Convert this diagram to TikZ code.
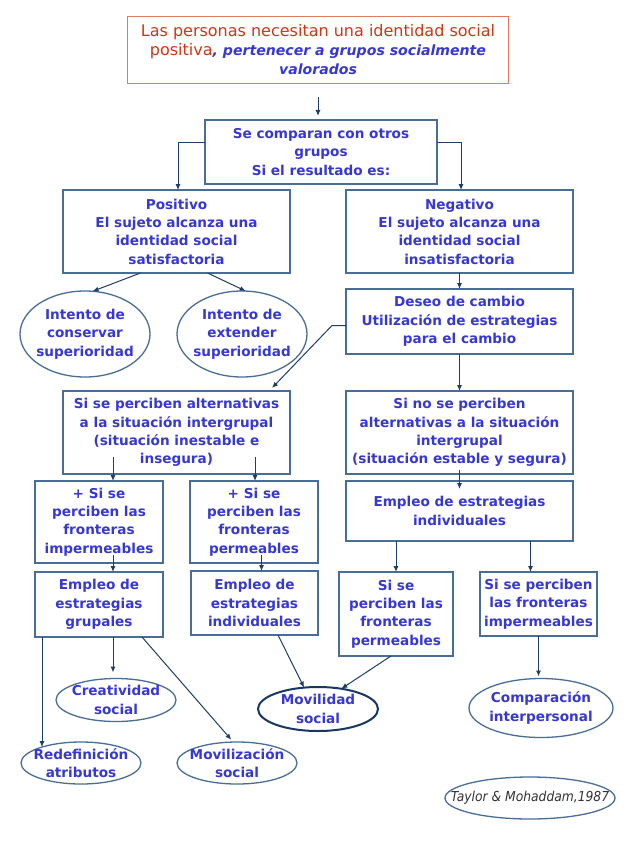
\documentclass[tikz,border=0pt]{standalone}
\usepackage{fontspec}
\setmainfont{DejaVu Sans}
\newfontfamily\tayf{DejaVu Sans Condensed}
\usetikzlibrary{shapes.geometric,arrows.meta,calc}
\definecolor{txtblue}{RGB}{55,55,210}
\definecolor{boxcol}{RGB}{72,110,152}
\definecolor{arrcol}{RGB}{30,62,105}
\definecolor{topred}{RGB}{205,55,20}
\definecolor{topborder}{RGB}{228,120,95}
\definecolor{navy}{RGB}{25,55,100}
\begin{document}
\begin{tikzpicture}[x=1pt,y=-1pt,
  every node/.style={inner sep=0pt, outer sep=0pt},
  box/.style={draw=boxcol, line width=1.3pt, fill=white, align=center, text=txtblue,
    font=\bfseries\fontsize{13.6}{18.3}\selectfont},
  ell/.style={ellipse, draw=boxcol, line width=1.3pt, fill=white},
  lbl/.style={align=center, text=txtblue, font=\bfseries\fontsize{13.6}{18.3}\selectfont},
  arr/.style={draw=arrcol, line width=1pt, -{Latex[length=6pt,width=5pt]}}
]
\useasboundingbox (0,0) rectangle (636,848);
\fill[white] (0,0) rectangle (636,848);

% boxes
\node[box, draw=topborder, line width=1.5pt, minimum width=381, minimum height=67,
  font=\mdseries\fontsize{16}{19}\selectfont] (top) at (318,50)
  {\textcolor{topred}{Las personas necesitan una identidad social}\\
   \textcolor{topred}{positiva}{\bfseries\itshape\fontsize{14.1}{19}\selectfont, pertenecer a grupos socialmente}\\
   {\bfseries\itshape\fontsize{14.1}{19}\selectfont valorados}};
\node[box, minimum width=232, minimum height=64] (cmp) at (321,152)
  {Se comparan con otros\\grupos\\Si el resultado es:};
\node[box, minimum width=227, minimum height=83] (pos) at (176.5,231.5)
  {Positivo\\El sujeto alcanza una\\identidad social\\satisfactoria};
\node[box, minimum width=227, minimum height=83] (neg) at (459.5,231.5)
  {Negativo\\El sujeto alcanza una\\identidad social\\insatisfactoria};
\node[ell, minimum width=130, minimum height=86,
  label={[lbl]center:Intento de\\conservar\\superioridad}] (e1) at (85,334) {};
\node[ell, minimum width=130, minimum height=86,
  label={[lbl]center:Intento de\\extender\\superioridad}] (e2) at (242,334) {};
\node[box, minimum width=227, minimum height=65] (des) at (459.5,321.5)
  {Deseo de cambio\\Utilización de estrategias\\para el cambio};
\node[box, minimum width=227, minimum height=83] (alt) at (176.5,432.5)
  {Si se perciben alternativas\\a la situación intergrupal\\(situación inestable e\\insegura)};
\node[box, minimum width=227, minimum height=83] (noalt) at (459.5,432.5)
  {Si no se perciben\\alternativas a la situación\\intergrupal\\(situación estable y segura)};
\node[box, minimum width=128, minimum height=82] (imp1) at (99,522)
  {+ Si se\\perciben las\\fronteras\\impermeables};
\node[box, minimum width=128, minimum height=82] (perm1) at (254,522)
  {+ Si se\\perciben las\\fronteras\\permeables};
\node[box, minimum width=227, minimum height=60] (empind) at (459.5,511)
  {Empleo de estrategias\\individuales};
\node[box, minimum width=128, minimum height=65] (grup) at (99,604.5)
  {Empleo de\\estrategias\\grupales};
\node[box, minimum width=127, minimum height=64] (ind2) at (254.5,603)
  {Empleo de\\estrategias\\individuales};
\node[box, minimum width=114, minimum height=84] (perm2) at (396,614)
  {Si se\\perciben las\\fronteras\\permeables};
\node[box, minimum width=117, minimum height=64] (imp2) at (538.5,604)
  {Si se perciben\\las fronteras\\impermeables};

% ellipses
\node[ell, minimum width=120, minimum height=43,
  label={[lbl]center:Creatividad\\social}] (crea) at (116,700) {};
\node[ell, draw=navy, line width=2pt, minimum width=120, minimum height=44,
  label={[lbl]center:Movilidad\\social}] (movil) at (318,709) {};
\node[ell, minimum width=144, minimum height=59,
  label={[lbl]center:Comparación\\interpersonal}] (comp) at (541,708) {};
\node[ell, minimum width=120, minimum height=42,
  label={[lbl]center:Redefinición\\atributos}] (redef) at (81,763) {};
\node[ell, minimum width=120, minimum height=42,
  label={[lbl]center:Movilización\\social}] (moviliz) at (237,763) {};
\node[ell, minimum width=170, minimum height=42,
  label={[text=black!80, font=\tayf\fontsize{13.7}{15}\selectfont\itshape]center:Taylor \& Mohaddam,1987}] (tay) at (530,798) {};

% connectors
\draw[arr, shorten >=4pt] ($(top.south)+(0,14)$) -- (top.south |- cmp.north);
\draw[arr] ([yshift=-22pt]cmp.north west) -| ([xshift=1.5pt]pos.north);
\draw[arr] ([yshift=-22pt]cmp.north east) -| ([xshift=1.5pt]neg.north);
\draw[arr] ($(pos.south)+(-36,0)$) -- (e1.80);
\draw[arr] ($(pos.south)+(31,0)$) -- (e2.85);
\draw[arr] (neg.south) -- (des.north);
\coordinate (dturn) at ($(des.west)+(-14,4)$);
\draw[arr] ([yshift=-4pt]des.west) -- (dturn) -- ($(alt.north east)+(-18,-3)$);
\draw[arr] (des.south) -- (noalt.north);
\coordinate (a1) at ($(imp1.north)+(14,0)$);
\coordinate (a2) at ($(perm1.north)+(1,0)$);
\draw[arr] ($(a1 |- alt.south)+(0,-17)$) -- (a1);
\draw[arr] ($(a2 |- alt.south)+(0,-17)$) -- (a2);
\draw[arr] ($(noalt.south)+(0,-4)$) -- ($(empind.north)+(0,8)$);
\coordinate (b1) at ($(grup.north)+(14,0)$);
\coordinate (b2) at ($(ind2.north)+(7,0)$);
\draw[arr] ($(b1 |- imp1.south)+(0,-8)$) -- (b1);
\draw[arr] ($(b2 |- perm1.south)+(0,-8)$) -- (b2);
\draw[arr] (perm2.north |- empind.south) -- (perm2.north);
\coordinate (c2) at ($(imp2.north)+(-8,0)$);
\draw[arr] (c2 |- empind.south) -- (c2);
\coordinate (g1) at ($(grup.south west)+(7,0)$);
\draw[arr] (g1) -- (g1 |- redef.158);
\coordinate (g2) at ($(grup.south)+(14,0)$);
\draw[arr, shorten >=6pt] (g2) -- (g2 |- crea.north);
\draw[arr, shorten >=3pt] ($(grup.south east)+(-21,0)$) -- (moviliz.100);
\draw[arr] ($(ind2.south)+(23.5,0)$) -- (movil.123);
\draw[arr] ($(perm2.south)+(-5,0)$) -- (movil.41);
\draw[arr, shorten >=2pt] (imp2.south) -- (imp2.south |- comp.north);
\end{tikzpicture}
\end{document}
